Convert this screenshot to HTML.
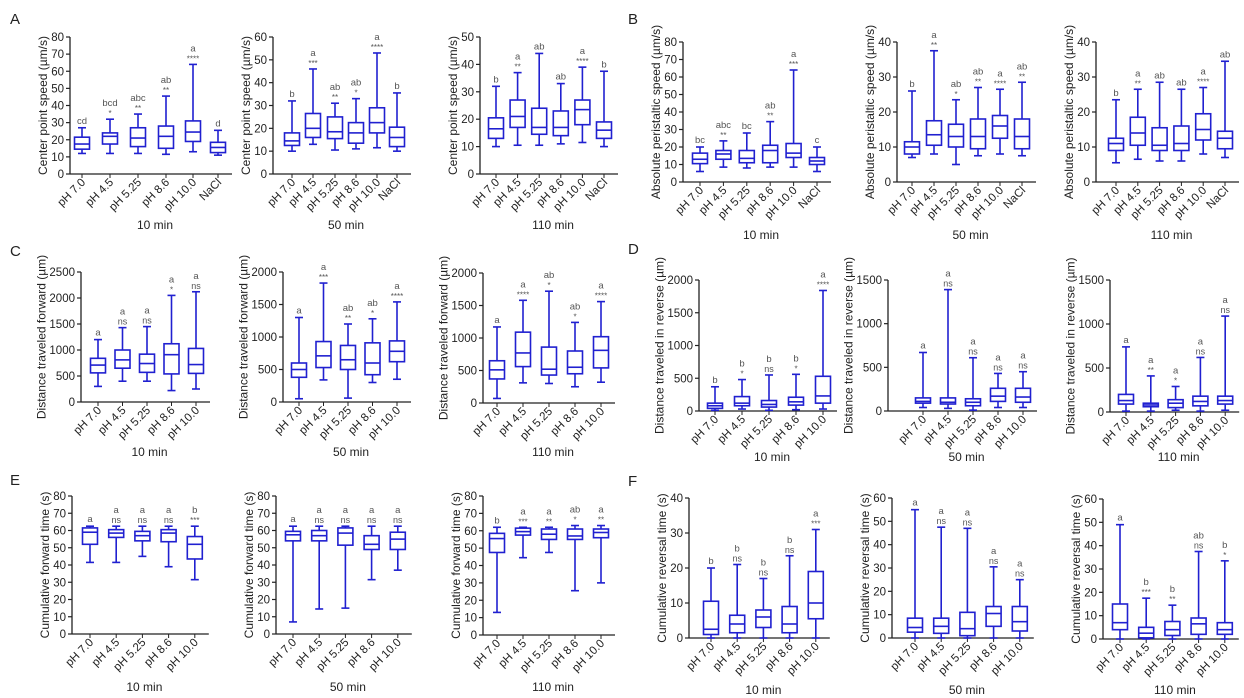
<!DOCTYPE html>
<html><head><meta charset="utf-8"><style>
body{margin:0;background:#fff;}
svg{display:block;font-family:"Liberation Sans",Arial,sans-serif;}
</style></head><body>
<svg id="s" width="1244" height="698" xmlns="http://www.w3.org/2000/svg"></svg>
<script>
const S=document.getElementById('s');let h='';
const L6=["pH 7.0","pH 4.5","pH 5.25","pH 8.6","pH 10.0","NaCl"],L5=L6.slice(0,5);
function P(o){
 const {x0,top,bot,max,step,cs,d,ann,yt,tm,tmy}=o;
 const sc=v=>bot-(v/max)*(bot-top);
 const x1=cs[cs.length-1]+14;
 h+=`<line x1="${x0}" y1="${top}" x2="${x0}" y2="${bot}" stroke="#222" stroke-width="1.3"/>`;
 h+=`<line x1="${x0}" y1="${bot}" x2="${x1}" y2="${bot}" stroke="#222" stroke-width="1.3"/>`;
 let ml=0;
 for(let v=0;v<=max+1e-9;v+=step){const y=sc(v);ml=Math.max(ml,String(v).length);
  h+=`<line x1="${x0-4}" y1="${y}" x2="${x0}" y2="${y}" stroke="#222" stroke-width="1.2"/><text x="${x0-6}" y="${y+4}" font-size="11.5" text-anchor="end" fill="#222">${v}</text>`;}
 const lab=cs.length==6?L6:L5;
 cs.forEach((c,i)=>{const [mn,q1,md,q3,mx]=d[i];const w=7.5;
  h+=`<line x1="${c}" y1="${bot}" x2="${c}" y2="${bot+4}" stroke="#222"/>`;
  h+=`<g stroke="#2020d0" stroke-width="1.6" fill="none"><line x1="${c}" y1="${sc(mx)}" x2="${c}" y2="${sc(q3)}"/><line x1="${c}" y1="${sc(q1)}" x2="${c}" y2="${sc(mn)}"/><line x1="${c-4}" y1="${sc(mx)}" x2="${c+4}" y2="${sc(mx)}"/><line x1="${c-4}" y1="${sc(mn)}" x2="${c+4}" y2="${sc(mn)}"/><rect x="${c-w}" y="${sc(q3)}" width="${2*w}" height="${Math.max(1,sc(q1)-sc(q3))}"/><line x1="${c-w}" y1="${sc(md)}" x2="${c+w}" y2="${sc(md)}"/></g>`;
  const [a,st]=ann[i];const yy=sc(mx);
  if(st) h+=`<text x="${c}" y="${yy-3}" font-size="${st=='ns'?9:8}" text-anchor="middle" fill="#555">${st}</text>`;
  h+=`<text x="${c}" y="${yy-(st?13:4)}" font-size="9.5" text-anchor="middle" fill="#555">${a}</text>`;
  h+=`<text transform="translate(${c+4},${bot+9}) rotate(-45)" font-size="11.5" text-anchor="end" fill="#222">${lab[i]}</text>`;
 });
 const tx=x0-6-ml*6.4-8;
 h+=`<text transform="translate(${tx+4},${(top+bot)/2}) rotate(-90)" font-size="12" text-anchor="middle" fill="#222">${yt}</text>`;
 h+=`<text x="${(x0+x1)/2+4}" y="${tmy}" font-size="12" text-anchor="middle" fill="#222">${tm}</text>`;
}
const c6=(s,d)=>[0,1,2,3,4,5].map(i=>s+d*i), c5=(s,d)=>[0,1,2,3,4].map(i=>s+d*i);
const n=x=>[x,''];
// Row A
P({x0:70,top:37,bot:174,max:80,step:10,cs:[82,110,138,166,193,218],yt:"Center point speed (µm/s)",tm:"10 min",tmy:229,
 d:[[12,14.5,17.5,21.5,27],[12,17.5,22,24,32],[12,16,21,27,35],[11.5,15,22,28,45.5],[13,19,24.5,31,64],[11,12.5,15.5,18.5,25.5]],
 ann:[n('cd'),['bcd','*'],['abc','**'],['ab','**'],['a','****'],n('d')]});
P({x0:273,top:37,bot:174,max:60,step:10,cs:[292,313,335,356,377,397],yt:"Center point speed (µm/s)",tm:"50 min",tmy:229,
 d:[[10,12.5,14.5,18,32],[13,16,20,26.5,46],[10.5,15.5,18.5,25,31],[11,13.5,18,22.5,33],[11.5,18,22.5,29,53],[10,12,16,20.5,35.5]],
 ann:[n('b'),['a','***'],['ab','**'],['ab','*'],['a','****'],n('b')]});
P({x0:480,top:37,bot:174,max:50,step:10,cs:c6(496,21.6),yt:"Center point speed (µm/s)",tm:"110 min",tmy:229,
 d:[[10,13,16.5,20.5,32],[10.5,17,21,27,37],[10.5,14.5,17,24,44],[11,14,17,23,33],[11.5,18,23.5,27,39],[10,13,16,19,37.5]],
 ann:[n('b'),['a','**'],n('ab'),n('ab'),['a','****'],n('b')]});
P({x0:683,top:42,bot:182,max:80,step:10,cs:c6(700,23.4),yt:"Absolute peristaltic speed (µm/s)",tm:"10 min",tmy:239,
 d:[[6,10.5,13,16.5,20],[8.5,13,16,18,23.5],[8,11,13.5,18,28],[8.5,11,18,21,34.5],[8.5,14,16.5,22,64],[6,10,12,14,20]],
 ann:[n('bc'),['abc','**'],n('bc'),['ab','**'],['a','***'],n('c')]});
P({x0:897,top:42,bot:182,max:40,step:10,cs:c6(912,22),yt:"Absolute peristaltic speed (µm/s)",tm:"50 min",tmy:239,
 d:[[7,8,10,11.5,26],[8,10.5,13.5,17.5,37.5],[5,10,13,16.5,23.5],[7.5,9.5,13,18,27],[8,12.5,16,19,26.5],[7.5,9.5,13,18,28.5]],
 ann:[n('b'),['a','**'],['ab','*'],['ab','**'],['a','****'],['ab','**']]});
P({x0:1096,top:42,bot:182,max:40,step:10,cs:c6(1116,21.8),yt:"Absolute peristaltic speed (µm/s)",tm:"110 min",tmy:239,
 d:[[5.5,9,11,12.5,23.5],[6.5,10.5,14,18.5,26.5],[6,9,10.5,15.5,28.5],[6,9,11,16,26.5],[8,12,15,19.5,27],[7,9.5,12.5,14.5,34.5]],
 ann:[n('b'),['a','**'],n('ab'),n('ab'),['a','****'],n('ab')]});
// Row C
P({x0:81,top:272,bot:402,max:2500,step:500,cs:c5(98,24.5),yt:"Distance traveled forward (µm)",tm:"10 min",tmy:456,
 d:[[300,560,710,840,1200],[400,650,810,1000,1430],[400,570,740,920,1450],[220,540,910,1120,2050],[250,550,720,1030,2120]],
 ann:[n('a'),['a','ns'],['a','ns'],['a','*'],['a','ns']]});
P({x0:283,top:272,bot:402,max:2000,step:500,cs:c5(299,24.5),yt:"Distance traveled forward (µm)",tm:"50 min",tmy:456,
 d:[[50,380,500,600,1300],[340,530,710,930,1830],[60,500,650,870,1200],[300,420,600,910,1280],[350,620,780,940,1540]],
 ann:[n('a'),['a','***'],['ab','**'],['ab','*'],['a','****']]});
P({x0:483,top:273,bot:403,max:2000,step:500,cs:c5(497,26),yt:"Distance traveled forward (µm)",tm:"110 min",tmy:456,
 d:[[70,370,510,650,1170],[310,560,770,1090,1580],[300,430,520,860,1720],[250,450,550,800,1240],[320,540,810,1020,1560]],
 ann:[n('a'),['a','****'],['ab','*'],['ab','*'],['a','****']]});
P({x0:699,top:280,bot:411,max:2000,step:500,cs:c5(715,27),yt:"Distance traveled in reverse (µm)",tm:"10 min",tmy:461,
 d:[[10,40,80,120,370],[30,80,120,220,480],[10,60,100,160,550],[20,90,140,210,560],[30,120,230,530,1840]],
 ann:[n('b'),['b','*'],['b','ns'],['b','*'],['a','****']]});
P({x0:888,top:280,bot:411,max:1500,step:500,cs:c5(923,25),yt:"Distance traveled in reverse (µm)",tm:"50 min",tmy:461,
 d:[[40,90,110,150,670],[30,80,100,150,1390],[10,60,100,140,610],[40,110,170,260,430],[40,100,160,260,450]],
 ann:[n('a'),['a','ns'],['a','ns'],['a','ns'],['a','ns']]});
P({x0:1110,top:280,bot:412,max:1500,step:500,cs:c5(1126,24.8),yt:"Distance traveled in reverse (µm)",tm:"110 min",tmy:461,
 d:[[10,90,130,200,740],[10,60,80,100,410],[20,50,100,140,290],[10,70,120,180,620],[20,90,130,180,1090]],
 ann:[n('a'),['a','**'],['a','*'],['a','ns'],['a','ns']]});
// Row E
P({x0:72,top:496,bot:634,max:80,step:10,cs:c5(90,26.2),yt:"Cumulative forward time (s)",tm:"10 min",tmy:691,
 d:[[41.5,52,59,61.5,62.5],[41.5,56,58.5,60.5,62.5],[45,54,57,59.5,62.5],[39,53.5,58.5,60.5,62.5],[31.5,43.5,52,56.5,62.5]],
 ann:[n('a'),['a','ns'],['a','ns'],['a','ns'],['b','***']]});
P({x0:276,top:496,bot:634,max:80,step:10,cs:c5(293,26.2),yt:"Cumulative forward time (s)",tm:"50 min",tmy:691,
 d:[[7,54,57.5,59.5,62.5],[14.5,54,57,60,62.5],[15,51.5,58.5,61.5,62.5],[31.5,49,52,57,62.5],[37,49,55,59,62.5]],
 ann:[n('a'),['a','ns'],['a','ns'],['a','ns'],['a','ns']]});
P({x0:483,top:496,bot:635,max:80,step:10,cs:c5(497,26),yt:"Cumulative forward time (s)",tm:"110 min",tmy:691,
 d:[[13,47.5,55.5,58.5,62],[44.5,57.5,59.5,61.5,62],[47.5,55,58,61,62],[25.5,55,57,61,63],[30,56,59,61,63]],
 ann:[n('b'),['a','***'],['a','**'],['ab','*'],['a','**']]});
P({x0:689,top:498,bot:638,max:40,step:10,cs:c5(711,26.2),yt:"Cumulative reversal time (s)",tm:"10 min",tmy:694,
 d:[[0,1,2.5,10.5,20],[0,1.5,4,6.5,21],[0,3,6,8,17],[0,1.5,4,9,23.5],[0,5.5,10,19,31]],
 ann:[n('b'),['b','ns'],['b','ns'],['b','ns'],['a','***']]});
P({x0:892,top:498,bot:638,max:60,step:10,cs:c5(915,26.2),yt:"Cumulative reversal time (s)",tm:"50 min",tmy:694,
 d:[[0,2.5,4.5,8.5,55],[0,2,5,8.5,47.5],[0,1,4,11,47],[0,5,10.5,13.5,30.5],[0,3,7,13.5,25]],
 ann:[n('a'),['a','ns'],['a','ns'],['a','ns'],['a','ns']]});
P({x0:1103,top:499,bot:639,max:60,step:10,cs:c5(1120,26.2),yt:"Cumulative reversal time (s)",tm:"110 min",tmy:694,
 d:[[0,4,7,15,49],[0,0.5,2.5,5,17.5],[0,1.5,4,7.5,14.5],[0,2,6.5,9,37.5],[0,2,4,7,33.5]],
 ann:[n('a'),['b','***'],['b','**'],['ab','ns'],['b','*']]});
[['A',10,24],['B',628,24],['C',10,256],['D',628,254],['E',10,485],['F',628,486]].forEach(([t,x,y])=>h+=`<text x="${x}" y="${y}" font-size="15" fill="#222">${t}</text>`);
S.innerHTML=h;
</script>
</body></html>
